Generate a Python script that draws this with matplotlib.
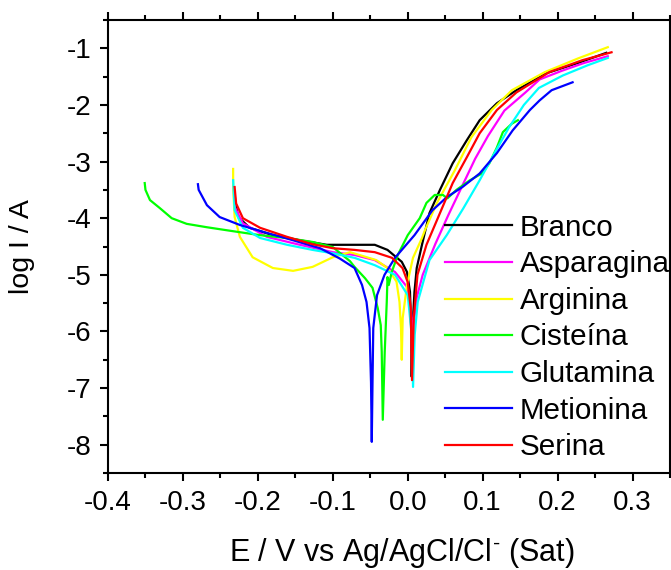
import matplotlib
matplotlib.use('Agg')
import matplotlib.pyplot as plt
from matplotlib.ticker import MultipleLocator

plt.rcParams['font.family'] = ['Liberation Sans', 'DejaVu Sans']
plt.rcParams['mathtext.fontset'] = 'custom'
plt.rcParams['mathtext.rm'] = 'Liberation Sans'

# Polarization curves (E vs Ag/AgCl, log I)
branco_e = [-0.231, -0.230, -0.226, -0.211, -0.180, -0.144, -0.108, -0.071, -0.044, -0.027,
            -0.008, -0.001, 0.003, 0.0045, 0.0053, 0.0065, 0.009, 0.012, 0.019, 0.029,
            0.043, 0.060, 0.079, 0.096, 0.119, 0.145, 0.185, 0.229, 0.265]
branco_logi = [-3.55, -3.75, -3.98, -4.17, -4.30, -4.39, -4.47, -4.47, -4.47, -4.56,
               -4.77, -4.95, -5.30, -5.90, -6.80, -5.90, -5.30, -4.88, -4.47, -3.91,
               -3.50, -3.03, -2.62, -2.27, -1.97, -1.74, -1.44, -1.25, -1.08]

asparagina_e = [-0.232, -0.231, -0.220, -0.188, -0.144, -0.100, -0.071, -0.044, -0.017, 0.000,
                0.0053, 0.006, 0.0075, 0.012, 0.020, 0.037, 0.054, 0.072, 0.090, 0.107,
                0.129, 0.157, 0.176, 0.205, 0.235, 0.267]
asparagina_logi = [-3.50, -3.80, -4.09, -4.33, -4.47, -4.60, -4.65, -4.74, -4.95, -5.23,
                   -5.76, -6.60, -5.90, -5.40, -5.00, -4.45, -3.95, -3.45, -2.95, -2.55,
                   -2.10, -1.78, -1.55, -1.40, -1.26, -1.14]

arginina_e = [-0.233, -0.233, -0.231, -0.224, -0.207, -0.180, -0.153, -0.127, -0.100, -0.077,
              -0.042, -0.027, -0.015, -0.011, -0.009, -0.008, -0.0067, -0.001, 0.007, 0.019,
              0.023, 0.039, 0.063, 0.085, 0.112, 0.139, 0.183, 0.227, 0.267]
arginina_logi = [-3.13, -3.45, -3.98, -4.33, -4.69, -4.88, -4.93, -4.86, -4.69, -4.60,
                 -4.74, -4.88, -5.12, -5.48, -5.94, -6.50, -5.76, -5.18, -4.70, -4.35,
                 -4.21, -3.73, -3.15, -2.57, -2.09, -1.74, -1.42, -1.18, -0.98]

cisteina_e = [-0.351, -0.350, -0.344, -0.331, -0.315, -0.295, -0.268, -0.233, -0.197, -0.161,
              -0.127, -0.100, -0.077, -0.071, -0.057, -0.047, -0.040, -0.036, -0.0347, -0.0333,
              -0.0307, -0.028, -0.027, -0.0253, -0.0213, -0.0133, 0.000, 0.016, 0.025, 0.036,
              0.047, 0.053, 0.065, 0.083, 0.099, 0.109, 0.119, 0.127, 0.139, 0.147]
cisteina_logi = [-3.38, -3.50, -3.68, -3.82, -4.00, -4.10, -4.16, -4.23, -4.30, -4.35,
                 -4.42, -4.51, -4.76, -4.86, -5.06, -5.23, -5.59, -5.89, -6.36, -7.56,
                 -6.36, -5.48, -5.04, -5.18, -4.95, -4.65, -4.30, -4.00, -3.73, -3.59,
                 -3.59, -3.65, -3.50, -3.33, -3.21, -3.03, -2.75, -2.48, -2.33, -2.27]

glutamina_e = [-0.233, -0.232, -0.231, -0.220, -0.197, -0.161, -0.127, -0.100, -0.071, -0.044,
               -0.017, 0.000, 0.0053, 0.0071, 0.0093, 0.0133, 0.029, 0.052, 0.074, 0.096,
               0.118, 0.135, 0.155, 0.175, 0.207, 0.240, 0.267]
glutamina_logi = [-3.33, -3.60, -3.86, -4.17, -4.35, -4.47, -4.56, -4.62, -4.70, -4.83,
                  -5.00, -5.36, -6.06, -6.98, -6.06, -5.48, -4.74, -4.30, -3.83, -3.33,
                  -2.80, -2.40, -2.00, -1.70, -1.48, -1.30, -1.17]

metionina_e = [-0.280, -0.279, -0.268, -0.251, -0.224, -0.188, -0.153, -0.117, -0.091, -0.071,
               -0.061, -0.055, -0.051, -0.049, -0.048, -0.047, -0.046, -0.041, -0.031, -0.017,
               0.009, 0.033, 0.052, 0.073, 0.096, 0.119, 0.140, 0.163, 0.176, 0.192, 0.220]
metionina_logi = [-3.40, -3.50, -3.77, -3.98, -4.12, -4.26, -4.39, -4.53, -4.71, -4.88,
                  -5.18, -5.48, -5.94, -6.90, -7.95, -6.90, -5.94, -5.36, -5.00, -4.70,
                  -4.30, -3.86, -3.63, -3.45, -3.21, -2.85, -2.45, -2.09, -1.92, -1.74, -1.60]

serina_e = [-0.231, -0.229, -0.220, -0.197, -0.161, -0.127, -0.100, -0.071, -0.044, -0.021,
            -0.007, 0.000, 0.004, 0.0057, 0.008, 0.013, 0.025, 0.043, 0.060, 0.079,
            0.096, 0.119, 0.145, 0.189, 0.233, 0.272]
serina_logi = [-3.45, -3.74, -4.00, -4.17, -4.33, -4.46, -4.53, -4.56, -4.60, -4.70,
               -4.88, -5.13, -5.59, -6.86, -5.76, -5.00, -4.47, -3.91, -3.38, -2.92,
               -2.50, -2.09, -1.78, -1.42, -1.21, -1.07]

labels = ['Branco', 'Asparagina', 'Arginina', 'Cisteína', 'Glutamina', 'Metionina', 'Serina']
colors = ['black', '#ff00ff', '#ffff00', '#00ff00', '#00ffff', '#0000ff', '#ff0000']

curves = [
    (branco_e, branco_logi),
    (asparagina_e, asparagina_logi),
    (arginina_e, arginina_logi),
    (cisteina_e, cisteina_logi),
    (glutamina_e, glutamina_logi),
    (metionina_e, metionina_logi),
    (serina_e, serina_logi),
]

fig = plt.figure(figsize=(6.71, 5.70), dpi=100)
ax = fig.add_axes([108 / 671, 1 - 473 / 570, 562 / 671, 453 / 570])

for (e, logi), lab, col in zip(curves, labels, colors):
    ax.plot(e, logi, color=col, lw=1.6, label=lab, solid_joinstyle='round')

ax.set_xlim(-0.4, 0.35)
ax.set_ylim(-8.5, -0.5)
ax.xaxis.set_major_locator(MultipleLocator(0.1))
ax.xaxis.set_minor_locator(MultipleLocator(0.05))
ax.yaxis.set_major_locator(MultipleLocator(1))
ax.yaxis.set_minor_locator(MultipleLocator(0.5))
ax.xaxis.set_major_formatter(plt.FuncFormatter(lambda v, p: f'{v:.1f}'.replace('-0.0', '0.0')))
ax.yaxis.set_major_formatter(plt.FuncFormatter(lambda v, p: f'{v:.0f}'))

for s in ax.spines.values():
    s.set_linewidth(1.5)
ax.tick_params(which='both', direction='out', top=True, right=True, width=1.5)
ax.tick_params(which='major', length=6, labelsize=20, pad=6)
ax.tick_params(which='minor', length=3.5)

ax.set_xlabel(r'E / V vs Ag/AgCl/Cl$^{\text{-}}$ (Sat)', fontsize=22)
ax.set_ylabel('log I / A', fontsize=20.5)
ax.xaxis.set_label_coords(0.523, -0.138)
ax.yaxis.set_label_coords(-0.130, 0.5)

ax.legend(loc='lower left', bbox_to_anchor=(0.5996, 0.026), frameon=False, borderpad=0,
          handlelength=2.26, handletextpad=0.27, labelspacing=0.29, fontsize=21.3,
          borderaxespad=0)

fig.savefig('out.png', dpi=100)
